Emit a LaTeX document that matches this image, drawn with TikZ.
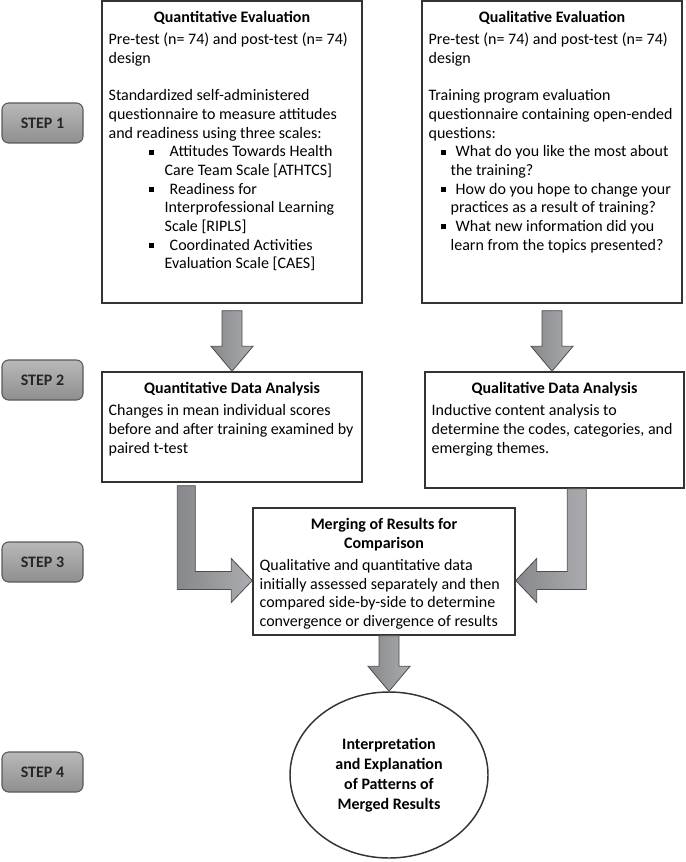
\documentclass[tikz,border=0pt]{standalone}
\usepackage{fontspec}
\setmainfont{Carlito}
\usetikzlibrary{positioning, calc, shapes.geometric}

\definecolor{framegray}{HTML}{333333}
\definecolor{arrowdark}{HTML}{87888B}
\definecolor{arrowlight}{HTML}{ABACAF}
\definecolor{steptop}{HTML}{B8B8B8}
\definecolor{stepbot}{HTML}{8F8F8F}

% text of a box, aligned at the top
\newcommand{\boxtext}[3]{\parbox[c][#2][t]{#1}{\raggedright\vspace*{4pt}#3}}
\newcommand{\boxtitle}[1]{{\centering\bfseries #1\par}\vspace{2.5pt}}
\newcommand{\sqbullet}{\raisebox{1.7pt}{\rule{3.8pt}{3.8pt}}}
\newenvironment{sqitems}[2]{%
  \begin{list}{\sqbullet}{%
    \setlength{\leftmargin}{#1}\setlength{\labelsep}{#2}%
    \setlength{\labelwidth}{0pt}\setlength{\itemindent}{0pt}%
    \setlength{\itemsep}{0pt}\setlength{\parsep}{0pt}%
    \setlength{\topsep}{0pt}\setlength{\partopsep}{0pt}}}%
  {\end{list}}

\tikzset{
    % boxes with text
    textframe/.style={
           rectangle,
           draw=framegray, line width=1.1pt,
           inner xsep=5pt, inner ysep=4pt,
           font=\fontsize{12}{14}\selectfont},
    % step labels
    stepbox/.style={
           rectangle,
           rounded corners=5pt,
           draw=black!65, line width=0.8pt,
           top color=steptop, bottom color=stepbot,
           minimum width=60.75pt, minimum height=30pt,
           font=\fontsize{12}{14}\selectfont\bfseries,
           text=black!85},
    % last box
    roundbox/.style={
           ellipse,
           draw=framegray, line width=1.1pt,
           inner sep=0pt,
           minimum width=148.5pt, minimum height=124.5pt,
           align=center,
           font=\fontsize{12}{15}\selectfont\bfseries},
    % block arrows
    block/.style={
           draw=black!70, line width=0.6pt,
           left color=arrowdark, right color=arrowlight}
}

% straight block arrow going down, from #1 to #2
\newcommand{\blockdown}[2]{%
  \path[block] ($(#1)+(-10,0)$) -- ($(#2)+(-10,-25)$) -- ($(#2)+(-21,-25)$)
    -- (#2) -- ($(#2)+(21,-25)$) -- ($(#2)+(10,-25)$) -- ($(#1)+(10,0)$) -- cycle;}

\begin{document}
\begin{tikzpicture}[x=0.75pt, y=-0.75pt]
	\useasboundingbox (0,0) rectangle (685,862);
	%
	% steps
	%
	\node[stepbox] (step1) at (42.5,123) {STEP 1};
	\node[stepbox] (step2) at (42.5,380) {STEP 2};
	\node[stepbox] (step3) at (42.5,562) {STEP 3};
	\node[stepbox] (step4) at (42.5,772) {STEP 4};
	%
	% boxes
	%
	\node[textframe] (quanteval) at (232,152) {\boxtext{185pt}{218.5pt}{%
		\boxtitle{Quantitative Evaluation}
		Pre-test (n= 74) and post-test (n= 74)\\ design\par\vspace{14pt}
		Standardized self-administered\\ questionnaire to measure attitudes\\ and readiness using three scales:
		\begin{sqitems}{42pt}{12pt}
		\item Attitudes Towards Health\\ Care Team Scale [ATHTCS]
		\item Readiness for\\ Interprofessional Learning\\ Scale [RIPLS]
		\item Coordinated Activities\\ Evaluation Scale [CAES]
		\end{sqitems}}};
	\node[textframe] (qualeval) at (552,152) {\boxtext{185pt}{218.5pt}{%
		\boxtitle{Qualitative Evaluation}
		Pre-test (n= 74) and post-test (n= 74)\\ design\par\vspace{14pt}
		Training program evaluation\\ questionnaire containing open-ended\\ questions:
		\begin{sqitems}{16.5pt}{7.6pt}
		\item What do you like the most about\\ the training?
		\item How do you hope to change your\\ practices as a result of training?
		\item What new information did you\\ learn from the topics presented?
		\end{sqitems}}};
	\node[textframe] (quantdata) at (232,427) {\boxtext{185pt}{74.5pt}{%
		\boxtitle{Quantitative Data Analysis}
		Changes in mean individual scores\\ before and after training examined by\\ paired t-test}};
	\node[textframe] (qualdata) at (554.5,430) {\boxtext{184.25pt}{79pt}{%
		\boxtitle{Qualitative Data Analysis}
		Inductive content analysis to\\ determine the codes, categories, and\\ emerging themes.}};
	\node[textframe] (merge) at (384,571.5) {\boxtext{186.5pt}{87.25pt}{%
		\boxtitle{Merging of Results for\\ Comparison}
		Qualitative and quantitative data\\ initially assessed separately and then\\ compared side-by-side to determine\\ convergence or divergence of results}};
	\node[roundbox] (interp) at (389,775) {Interpretation\\ and Explanation\\ of Patterns of\\ Merged Results};
	%
	% arrows
	%
	\coordinate (a1) at ($(quanteval.south)+(0,7)$);
	\coordinate (a2) at (a1 |- quantdata.north);
	\blockdown{a1}{a2}
	\coordinate (b1) at ($(qualeval.south)+(0,7)$);
	\coordinate (b2) at (b1 |- qualdata.north);
	\blockdown{b1}{b2}
	\coordinate (c1) at (interp.north |- merge.south);
	\blockdown{c1}{interp.north}
	% bent arrows into the merging box
	\coordinate (lstart) at ($(quantdata.south west)+(85,3)$);
	\coordinate (ltip) at ($(merge.west)+(0,9)$);
	\path[block] ($(lstart)+(-9,0)$) -- ($(lstart |- ltip)+(-9,9)$) -- ($(ltip)+(-21,9)$)
		-- ($(ltip)+(-21,22)$) -- (ltip) -- ($(ltip)+(-21,-22)$) -- ($(ltip)+(-21,-9)$)
		-- ($(lstart |- ltip)+(9,-9)$) -- ($(lstart)+(9,0)$) -- cycle;
	\coordinate (rstart) at ($(qualdata.south west)+(152.5,0)$);
	\coordinate (rtip) at ($(merge.east)+(0,9)$);
	\path[block] ($(rstart)+(9.5,0)$) -- ($(rstart |- rtip)+(9.5,9)$) -- ($(rtip)+(21,9)$)
		-- ($(rtip)+(21,22)$) -- (rtip) -- ($(rtip)+(21,-22)$) -- ($(rtip)+(21,-9)$)
		-- ($(rstart |- rtip)+(-9.5,-9)$) -- ($(rstart)+(-9.5,0)$) -- cycle;
\end{tikzpicture}
\end{document}
